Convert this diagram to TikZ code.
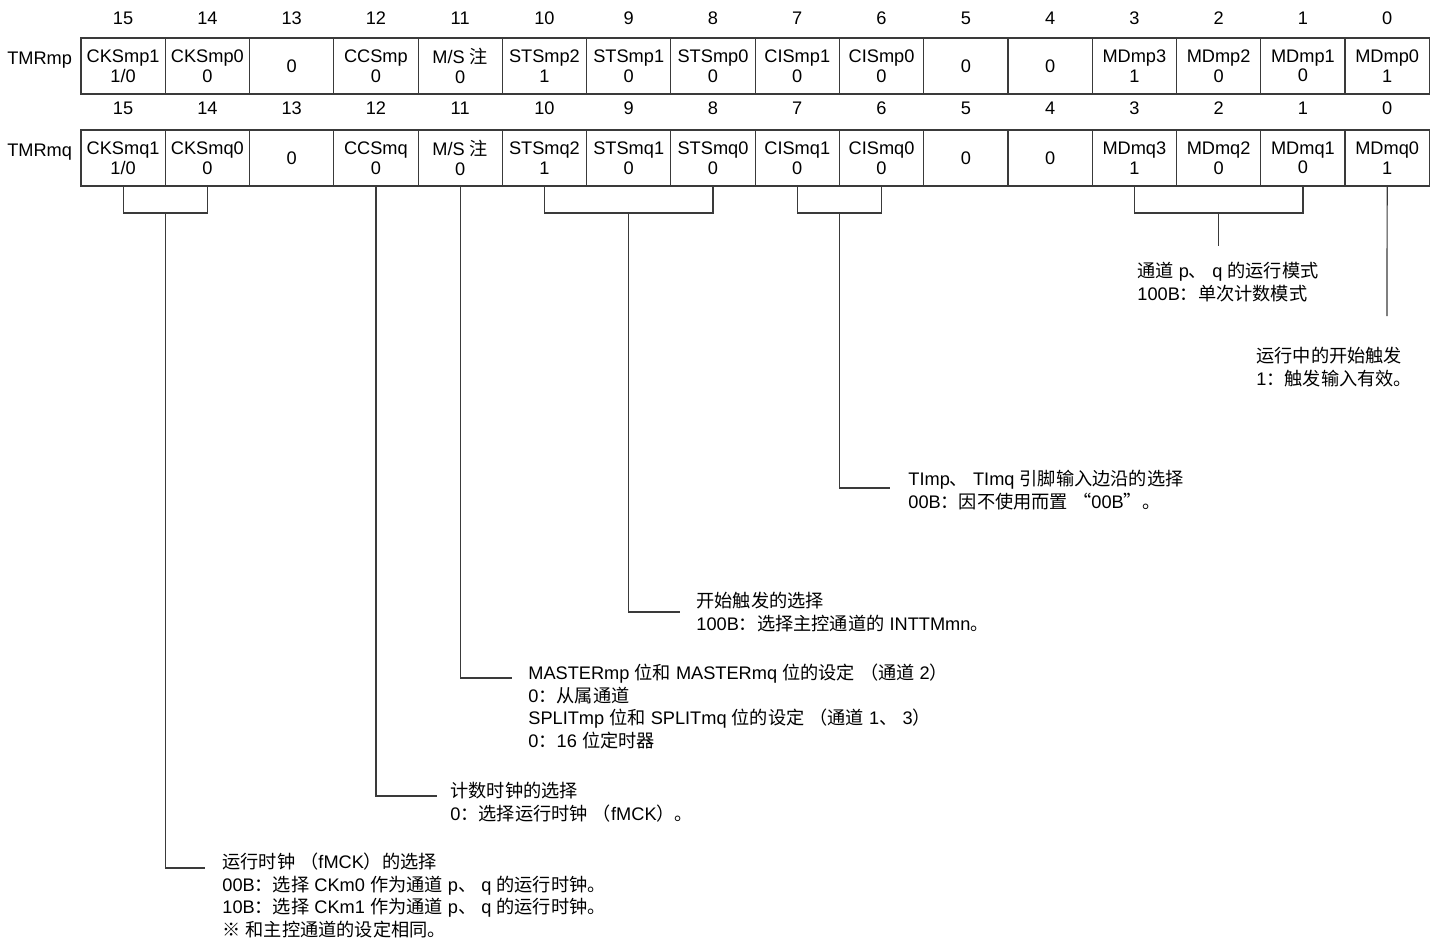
\documentclass[tikz,border=0pt]{standalone}
\usepackage{fontspec}
\setmainfont{Liberation Sans}
\newfontfamily\zhfont{Noto Sans CJK SC}
\newcommand{\zh}[1]{{\zhfont #1}}
\usetikzlibrary{positioning}
\definecolor{linegray}{HTML}{3A3A3A}

\tikzset{
  regcell/.style={draw=linegray, line width=0.55pt, minimum width=42.135pt,
    minimum height=28pt, inner sep=0pt, align=center,
    font=\fontsize{9.1}{9.75}\selectfont},
  bitnum/.style={inner sep=0pt, font=\fontsize{9.1}{11}\selectfont},
  regname/.style={inner sep=0pt, font=\fontsize{9.1}{11}\selectfont},
  note/.style={inner sep=0pt, anchor=north west, align=left,
    font=\fontsize{9.1}{11.25}\selectfont},
  leader/.style={draw=linegray, line width=0.6pt}
}

\begin{document}
\begin{tikzpicture}[x=0.5pt, y=-0.5pt]
  \useasboundingbox (0,0) rectangle (1439,943);

  \foreach \t [count=\i from 0] in {{CKSmp1\\1/0},{CKSmp0\\0},0,{CCSmp\\0},{M/S \zh{注}\\0},
      {STSmp2\\1},{STSmp1\\0},{STSmp0\\0},{CISmp1\\0},{CISmp0\\0},0,0,
      {MDmp3\\1},{MDmp2\\0},{MDmp1\\0},{MDmp0\\1}}{
    \pgfmathtruncatemacro{\b}{15-\i}
    \node[bitnum] (np\b) at ({123.1+84.27*\i},18) {\b};
    \node[regcell] (p\b) at ({123.1+84.27*\i},66) {\t};
  }
  \foreach \t [count=\i from 0] in {{CKSmq1\\1/0},{CKSmq0\\0},0,{CCSmq\\0},{M/S \zh{注}\\0},
      {STSmq2\\1},{STSmq1\\0},{STSmq0\\0},{CISmq1\\0},{CISmq0\\0},0,0,
      {MDmq3\\1},{MDmq2\\0},{MDmq1\\0},{MDmq0\\1}}{
    \pgfmathtruncatemacro{\b}{15-\i}
    \node[bitnum] (nq\b) at ({123.1+84.27*\i},108) {\b};
    \node[regcell] (q\b) at ({123.1+84.27*\i},158) {\t};
  }

  \node[regname, left=4pt of p15, yshift=3pt] (tmrp) {TMRmp};
  \node[regname, left=4pt of q15, yshift=3pt] (tmrq) {TMRmq};

  % brackets under the bit fields
  \coordinate (ckm) at (165.3,213);
  \coordinate (stm) at (628.7,213);
  \coordinate (cim) at (839.2,213);
  \coordinate (mdm) at (1218.4,213);
  \draw[leader] (q15.south) |- (ckm) -| (q14.south);
  \draw[leader] (q10.south) |- (stm) -| (q8.south);
  \draw[leader] (q7.south) |- (cim) -| (q6.south);
  \draw[leader] (q3.south) |- (mdm) -| (q1.south);

  \node[note] (mdnote) at (1137,262) {\zh{通道} p\zh{、} q \zh{的运行模式}\\
    100B\zh{：单次计数模式}};
  \node[note] (md0note) at (1256,347) {\zh{运行中的开始触发}\\
    1\zh{：触发输入有效。}};
  \node[note] (cinote) at (908,470) {TImp\zh{、} TImq \zh{引脚输入边沿的选择}\\
    00B\zh{：因不使用而置} \zh{“}00B\zh{”。}};
  \node[note] (stnote) at (696,592) {\zh{开始触发的选择}\\
    100B\zh{：选择主控通道的} INTTMmn\zh{。}};
  \node[note] (msnote) at (528,664) {MASTERmp \zh{位和} MASTERmq \zh{位的设定} \zh{（通道} 2\zh{）}\\
    0\zh{：从属通道}\\
    SPLITmp \zh{位和} SPLITmq \zh{位的设定} \zh{（通道} 1\zh{、} 3\zh{）}\\
    0\zh{：}16 \zh{位定时器}};
  \node[note] (ccnote) at (450,782) {\zh{计数时钟的选择}\\
    0\zh{：选择运行时钟} \zh{（}fMCK\zh{）。}};
  \node[note] (cknote) at (222,853) {\zh{运行时钟} \zh{（}fMCK\zh{）的选择}\\
    00B\zh{：选择} CKm0 \zh{作为通道} p\zh{、} q \zh{的运行时钟。}\\
    10B\zh{：选择} CKm1 \zh{作为通道} p\zh{、} q \zh{的运行时钟。}\\
    \zh{※} \zh{和主控通道的设定相同。}};

  \coordinate (mdend) at (1218.4,246);
  \coordinate (md0end) at (1387,316);
  \coordinate (ciend) at (890,488);
  \coordinate (stend) at (680,612);
  \coordinate (msend) at (512,678);
  \coordinate (ccend) at (437,796);
  \coordinate (ckend) at (205,868);
  \draw[leader] (mdm) -- (mdend);
  \draw[leader] (q0.south) -- (md0end);
  \draw[leader] (cim) |- (ciend);
  \draw[leader] (stm) |- (stend);
  \draw[leader] (q11.south) |- (msend);
  \draw[leader] (q12.south) |- (ccend);
  \draw[leader] (ckm) |- (ckend);
\end{tikzpicture}
\end{document}
